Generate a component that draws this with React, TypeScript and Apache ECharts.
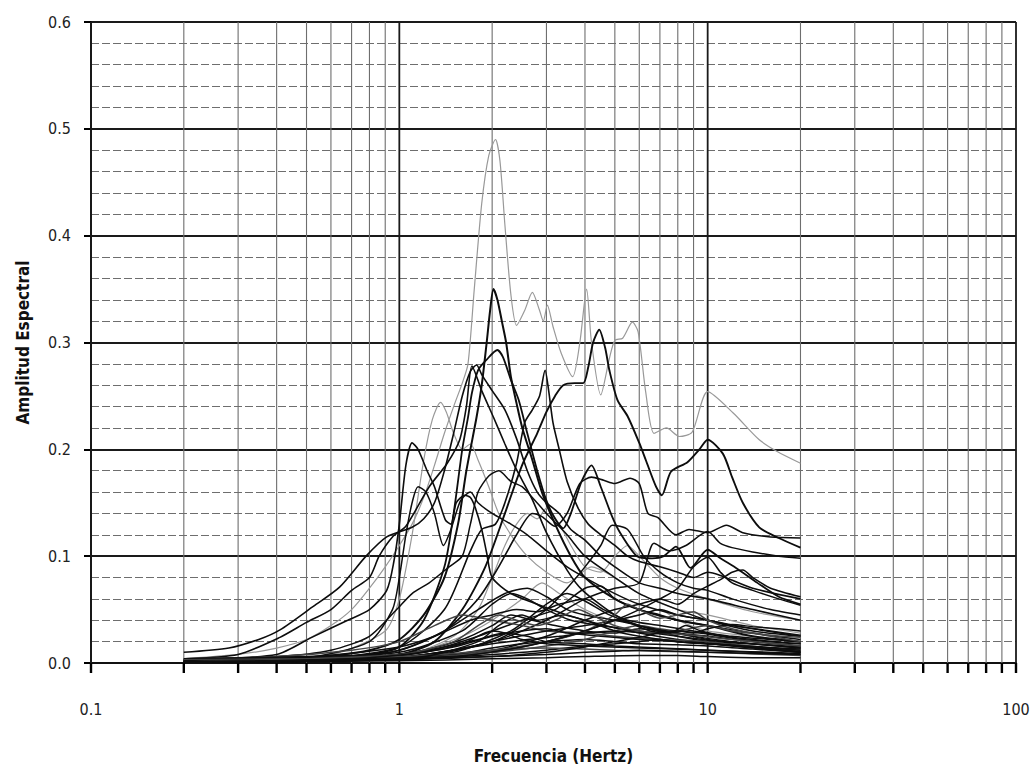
import React, { useEffect, useRef } from "react";
import * as echarts from "echarts";

// ---- Data: frequency (Hz) / spectral amplitude pairs ----
const xTickLabels = ["0.1", "1", "10", "100"];
const majorFreqs = [0.1, 1, 10, 100];
const minorFreqs = [0.2, 0.3, 0.4, 0.5, 0.6, 0.7, 0.8, 0.9, 2, 3, 4, 5, 6, 7, 8, 9, 20, 30, 40, 50, 60, 70, 80, 90];

const curveA = [[0.2,0.004],[0.3,0.008],[0.4,0.014],[0.5,0.022],[0.6,0.035],[0.7,0.05],[0.8,0.07],[0.9,0.09],[1.0,0.11],[1.1,0.13],[1.2,0.155],[1.3,0.185],[1.4,0.215],[1.5,0.24],[1.6,0.262],[1.67,0.28],[1.75,0.35],[1.85,0.43],[1.95,0.475],[2.05,0.49],[2.12,0.47],[2.2,0.41],[2.3,0.345],[2.4,0.316],[2.55,0.33],[2.7,0.347],[2.85,0.33],[2.93,0.32],[3.02,0.335],[3.15,0.315],[3.35,0.29],[3.65,0.268],[3.85,0.3],[4.05,0.35],[4.2,0.3],[4.5,0.251],[4.8,0.285],[5.0,0.302],[5.3,0.304],[5.7,0.319],[5.95,0.31],[6.3,0.253],[6.7,0.215],[7.35,0.22],[8.1,0.212],[8.9,0.216],[10.0,0.254],[12.1,0.234],[14.7,0.209],[16.8,0.198],[20,0.187]];
const curveB = [[0.2,0.002],[0.4,0.004],[0.6,0.007],[0.8,0.012],[1.0,0.022],[1.2,0.045],[1.4,0.08],[1.55,0.13],[1.65,0.18],[1.78,0.23],[1.85,0.26],[1.92,0.3],[1.97,0.33],[2.02,0.35],[2.08,0.34],[2.15,0.32],[2.22,0.3],[2.3,0.268],[2.4,0.243],[2.5,0.221],[2.7,0.19],[2.9,0.16],[3.2,0.13],[3.6,0.1],[4.0,0.08],[5.0,0.06],[6,0.05],[8,0.04],[10,0.035],[14,0.025],[20,0.02]];
const curveC = [[0.2,0.001],[0.5,0.003],[0.8,0.008],[1.0,0.015],[1.2,0.04],[1.4,0.09],[1.5,0.14],[1.6,0.2],[1.67,0.23],[1.72,0.253],[1.8,0.274],[1.92,0.284],[2.08,0.293],[2.17,0.286],[2.3,0.265],[2.44,0.246],[2.6,0.215],[2.8,0.18],[3.0,0.152],[3.2,0.135],[3.4,0.126],[3.6,0.14],[3.9,0.17],[4.2,0.185],[4.5,0.165],[4.9,0.137],[5.2,0.122],[5.9,0.1],[6.6,0.098],[7.2,0.1],[7.9,0.109],[8.8,0.089],[10,0.106],[11,0.098],[12.5,0.088],[14.5,0.075],[17,0.062],[20,0.055]];
const curveD = [[0.2,0.001],[0.5,0.002],[1.0,0.008],[1.3,0.02],[1.6,0.05],[1.9,0.09],[2.2,0.14],[2.5,0.185],[2.8,0.215],[3.0,0.235],[3.2,0.25],[3.4,0.26],[3.7,0.262],[3.95,0.262],[4.1,0.277],[4.25,0.3],[4.45,0.312],[4.65,0.295],[4.8,0.274],[5.1,0.246],[5.5,0.231],[6.0,0.206],[6.3,0.19],[6.8,0.165],[7.1,0.157],[7.6,0.179],[8.6,0.188],[9.4,0.2],[10,0.209],[11.2,0.196],[12,0.174],[13,0.15],[14.7,0.127],[17,0.117],[20,0.108]];
const curveE1 = [[0.2,0.004],[0.3,0.008],[0.41,0.024],[0.5,0.038],[0.6,0.05],[0.7,0.068],[0.8,0.08],[0.86,0.1],[0.95,0.118],[1.05,0.128],[1.25,0.165],[1.43,0.187],[1.57,0.209],[1.65,0.24],[1.72,0.278],[1.85,0.255],[2.02,0.23],[2.2,0.205],[2.37,0.184],[2.7,0.153],[3.0,0.122],[3.5,0.087],[3.93,0.068],[5,0.045],[6,0.035],[8,0.025],[10,0.02],[14,0.014],[20,0.01]];
const curveE2 = [[0.2,0.01],[0.28,0.014],[0.35,0.022],[0.41,0.031],[0.52,0.052],[0.64,0.071],[0.78,0.1],[0.91,0.118],[1.1,0.127],[1.2,0.135],[1.3,0.15],[1.4,0.18],[1.5,0.215],[1.6,0.25],[1.7,0.273],[1.78,0.279],[1.85,0.27],[2.0,0.255],[2.2,0.237],[2.4,0.21],[2.6,0.18],[2.8,0.16],[3.0,0.15],[3.3,0.14],[3.6,0.125],[4.0,0.115],[4.5,0.1],[5,0.09],[6,0.075],[7,0.07],[8,0.065],[10,0.06],[14,0.05],[20,0.04]];
const curveG = [[0.2,0.003],[0.4,0.008],[0.52,0.024],[0.68,0.04],[0.8,0.05],[0.91,0.068],[0.96,0.095],[1.0,0.13],[1.05,0.185],[1.1,0.206],[1.15,0.2],[1.23,0.18],[1.3,0.165],[1.41,0.134],[1.47,0.13],[1.53,0.15],[1.63,0.157],[1.7,0.155],[1.76,0.146],[1.85,0.125],[1.92,0.103],[2.0,0.08],[2.3,0.065],[2.8,0.055],[3.5,0.045],[4.5,0.036],[6,0.028],[8,0.022],[12,0.016],[20,0.011]];
const curveH = [[0.2,0.002],[0.5,0.005],[0.8,0.02],[0.95,0.05],[1.0,0.08],[1.05,0.12],[1.1,0.15],[1.15,0.165],[1.22,0.16],[1.3,0.14],[1.39,0.11],[1.47,0.125],[1.58,0.152],[1.7,0.16],[1.8,0.15],[2.0,0.14],[2.3,0.13],[2.6,0.12],[3,0.105],[3.5,0.09],[4,0.08],[5,0.065],[6,0.055],[8,0.045],[10,0.04],[14,0.032],[20,0.025]];
const curveH2 = [[0.2,0.002],[0.6,0.008],[0.9,0.03],[1.0,0.06],[1.1,0.12],[1.2,0.19],[1.28,0.228],[1.36,0.244],[1.42,0.235],[1.5,0.215],[1.6,0.2],[1.7,0.205],[1.8,0.19],[1.95,0.165],[2.1,0.14],[2.3,0.12],[2.6,0.1],[3,0.085],[3.5,0.075],[4.2,0.09],[5,0.08],[6,0.065],[8,0.05],[10,0.045],[14,0.035],[20,0.028]];
const curveK = [[0.2,0.001],[0.5,0.003],[1.0,0.015],[1.4,0.05],[1.7,0.105],[1.85,0.125],[2.05,0.13],[2.2,0.15],[2.4,0.187],[2.55,0.225],[2.7,0.237],[2.85,0.25],[2.97,0.274],[3.05,0.255],[3.15,0.225],[3.3,0.2],[3.5,0.17],[3.8,0.145],[4.1,0.13],[4.5,0.12],[5,0.11],[5.5,0.1],[6,0.095],[7,0.09],[8,0.085],[9,0.08],[10,0.085],[11,0.082],[14,0.07],[20,0.06]];
const curveM = [[0.2,0.001],[0.6,0.004],[1.0,0.012],[1.4,0.03],[1.8,0.06],[2.1,0.09],[2.4,0.12],[2.7,0.14],[2.9,0.137],[3.2,0.128],[3.5,0.14],[3.85,0.168],[4.2,0.174],[4.6,0.171],[5.0,0.168],[5.6,0.173],[6.0,0.168],[6.4,0.14],[6.9,0.136],[7.9,0.12],[8.7,0.125],[10,0.122],[11.5,0.129],[13,0.122],[16,0.118],[20,0.117]];
const curveN = [[0.2,0.003],[0.4,0.006],[0.6,0.012],[0.8,0.025],[0.98,0.05],[1.1,0.065],[1.25,0.075],[1.45,0.09],[1.6,0.1],[1.7,0.13],[1.8,0.16],[1.95,0.175],[2.1,0.18],[2.3,0.17],[2.5,0.165],[2.7,0.155],[3.0,0.14],[3.5,0.12],[4.0,0.1],[5,0.08],[6,0.065],[8,0.05],[10,0.04],[14,0.03],[20,0.025]];
const curveQ1 = [[0.2,0.001],[1,0.005],[2,0.02],[3,0.04],[4,0.06],[5,0.07],[6,0.075],[6.7,0.112],[7.5,0.105],[8.5,0.11],[10,0.123],[11,0.112],[12,0.108],[14,0.104],[17,0.1],[20,0.098]];
const curveQ2 = [[0.2,0.001],[1,0.004],[2,0.012],[3,0.025],[4,0.04],[5,0.05],[6,0.055],[7,0.06],[8,0.055],[9,0.065],[10,0.072],[11,0.078],[12,0.085],[13,0.087],[14,0.08],[16,0.07],[20,0.062]];
const curveQ3 = [[0.2,0.001],[1,0.003],[2,0.01],[3,0.02],[4,0.03],[5,0.04],[6,0.05],[7,0.06],[8,0.07],[9,0.09],[10,0.099],[11,0.085],[12,0.075],[14,0.068],[17,0.06],[20,0.054]];
const curveT = [[0.2,0.001],[1,0.006],[1.5,0.025],[1.8,0.05],[2.0,0.08],[2.2,0.11],[2.4,0.13],[2.6,0.14],[2.8,0.135],[3.0,0.145],[3.3,0.13],[3.6,0.11],[4,0.09],[4.5,0.085],[5,0.1],[5.5,0.11],[6,0.1],[7,0.08],[8,0.07],[10,0.06],[14,0.048],[20,0.04]];
const curveR = [[0.2,0.001],[1,0.004],[2,0.02],[3,0.05],[3.5,0.07],[4,0.09],[4.5,0.11],[4.9,0.129],[5.5,0.125],[6.2,0.1],[7,0.085],[8,0.075],[9,0.07],[10,0.068],[12,0.06],[16,0.05],[20,0.045]];

const low1 = [[0.2,0.001],[0.6,0.004],[1,0.012],[1.4,0.03],[1.8,0.05],[2.2,0.065],[2.6,0.07],[3,0.062],[3.5,0.05],[4,0.045],[5,0.04],[6,0.035],[8,0.028],[10,0.025],[14,0.02],[20,0.016]];
const low2 = [[0.2,0.002],[0.5,0.005],[1,0.015],[1.3,0.025],[1.7,0.04],[2,0.045],[2.4,0.05],[2.8,0.048],[3.3,0.055],[4,0.06],[4.6,0.05],[5.5,0.04],[7,0.035],[9,0.03],[12,0.025],[20,0.02]];
const low3 = [[0.2,0.001],[0.7,0.003],[1.2,0.01],[1.8,0.025],[2.5,0.04],[3.2,0.05],[4,0.07],[4.5,0.072],[5,0.06],[6,0.05],[7,0.045],[8,0.04],[10,0.035],[14,0.028],[20,0.022]];
const low4 = [[0.2,0.004],[0.4,0.006],[0.7,0.012],[1,0.02],[1.3,0.035],[1.6,0.045],[2,0.04],[2.5,0.035],[3,0.03],[4,0.028],[5,0.025],[7,0.022],[10,0.02],[15,0.015],[20,0.012]];
const low5 = [[0.2,0.001],[1,0.006],[1.5,0.012],[2,0.02],[3,0.03],[4,0.035],[5,0.04],[6,0.045],[7,0.05],[8,0.045],[10,0.04],[12,0.035],[16,0.03],[20,0.026]];
const low6 = [[0.2,0.002],[0.8,0.005],[1.2,0.012],[1.6,0.022],[2,0.035],[2.3,0.045],[2.7,0.04],[3.2,0.035],[4,0.03],[5,0.028],[6,0.032],[7,0.03],[9,0.025],[12,0.02],[20,0.014]];
const low7 = [[0.2,0.003],[0.5,0.005],[1,0.008],[1.5,0.015],[2,0.025],[2.5,0.03],[3,0.032],[3.5,0.028],[4.5,0.025],[6,0.022],[8,0.02],[10,0.018],[14,0.015],[20,0.01]];
const low8 = [[0.2,0.001],[1,0.004],[2,0.012],[3,0.02],[4,0.03],[5,0.045],[5.5,0.055],[6,0.05],[7,0.042],[8,0.045],[9,0.048],[10,0.04],[12,0.032],[16,0.025],[20,0.02]];
const low9 = [[0.2,0.002],[0.6,0.004],[1,0.008],[1.4,0.015],[1.8,0.022],[2.2,0.028],[2.6,0.025],[3,0.02],[4,0.018],[5,0.016],[7,0.014],[10,0.012],[20,0.008]];
const low10 = [[0.2,0.001],[0.9,0.003],[1.5,0.008],[2,0.014],[2.5,0.018],[3,0.02],[4,0.022],[5,0.02],[6,0.018],[8,0.017],[10,0.016],[14,0.013],[20,0.01]];
const low11 = [[0.2,0.004],[0.5,0.006],[1,0.01],[1.6,0.03],[2,0.055],[2.3,0.065],[2.6,0.06],[3,0.05],[3.6,0.04],[4.5,0.035],[6,0.03],[8,0.025],[11,0.02],[15,0.017],[20,0.014]];
const low12 = [[0.2,0.001],[1,0.004],[2,0.01],[3,0.016],[4,0.022],[5,0.03],[6,0.035],[7,0.032],[8,0.03],[9,0.033],[10,0.035],[12,0.03],[16,0.026],[20,0.024]];
const low13 = [[0.2,0.001],[0.8,0.003],[1.5,0.01],[2.3,0.03],[3,0.055],[3.5,0.065],[4,0.058],[4.8,0.045],[6,0.035],[8,0.028],[10,0.022],[14,0.018],[20,0.015]];
const low14 = [[0.2,0.002],[1,0.005],[1.5,0.012],[2,0.018],[2.6,0.022],[3.3,0.025],[4,0.028],[5,0.03],[6.5,0.028],[8,0.03],[10,0.027],[13,0.022],[20,0.018]];
const low15 = [[0.2,0.001],[1,0.003],[2,0.008],[3,0.012],[4,0.016],[5,0.018],[6,0.02],[7,0.022],[8,0.02],[10,0.018],[13,0.016],[20,0.013]];
const low16 = [[0.2,0.003],[0.5,0.004],[1,0.006],[1.5,0.009],[2,0.012],[3,0.014],[4,0.013],[5,0.012],[7,0.011],[10,0.01],[20,0.007]];
const low17 = [[0.2,0.001],[0.6,0.002],[1.2,0.006],[1.8,0.02],[2.1,0.035],[2.5,0.045],[2.8,0.04],[3.4,0.045],[4,0.04],[5,0.03],[6,0.025],[8,0.02],[10,0.018],[20,0.012]];
const low18 = [[0.2,0.002],[1,0.004],[2,0.006],[3,0.008],[4,0.01],[5,0.011],[6,0.012],[8,0.011],[10,0.01],[14,0.009],[20,0.008]];
const low19 = [[0.2,0.001],[1,0.002],[2,0.004],[3,0.005],[4,0.006],[6,0.007],[8,0.007],[10,0.006],[14,0.005],[20,0.005]];
const low20 = [[0.2,0.001],[1,0.008],[1.5,0.02],[1.8,0.035],[2.1,0.045],[2.4,0.04],[2.8,0.035],[3.2,0.04],[3.8,0.05],[4.2,0.045],[5,0.035],[6,0.03],[7,0.028],[9,0.026],[12,0.022],[20,0.016]];
const low21 = [[0.2,0.001],[1,0.006],[1.6,0.025],[2,0.04],[2.5,0.06],[2.9,0.075],[3.3,0.065],[4,0.05],[5,0.04],[6,0.045],[7,0.05],[8,0.04],[10,0.03],[14,0.025],[20,0.02]];
const low22 = [[0.2,0.001],[1,0.003],[2,0.006],[3,0.01],[4,0.015],[5,0.02],[6,0.024],[7,0.028],[8,0.03],[9,0.028],[10,0.032],[12,0.036],[14,0.034],[17,0.032],[20,0.03]];
const low23 = [[0.2,0.001],[1.5,0.006],[2.5,0.015],[3.5,0.025],[4.5,0.035],[5,0.04],[5.5,0.038],[6.5,0.03],[7.5,0.028],[8.5,0.035],[9.5,0.03],[12,0.024],[20,0.018]];
const low24 = [[0.2,0.001],[0.7,0.004],[1.2,0.01],[1.6,0.018],[2,0.03],[2.2,0.028],[2.5,0.022],[3,0.018],[4,0.016],[6,0.014],[10,0.012],[20,0.009]];

const FONT = "'Liberation Sans Narrow','Arial Narrow','DejaVu Sans Condensed',Arial,sans-serif";

type Spec = { data: number[][]; color: string; width: number };
const BLACK = "#0d0d0d";
const GRAY = "#999999";
const curves: Spec[] = [
  { data: curveA, color: GRAY, width: 1.2 },
  { data: curveH2, color: GRAY, width: 1.2 },
  { data: curveT, color: GRAY, width: 1.2 },
  { data: low21, color: GRAY, width: 1.2 },
  { data: curveB, color: BLACK, width: 2 },
  { data: curveC, color: BLACK, width: 1.8 },
  { data: curveD, color: BLACK, width: 1.9 },
  { data: curveE1, color: BLACK, width: 1.6 },
  { data: curveE2, color: BLACK, width: 1.6 },
  { data: curveG, color: BLACK, width: 1.6 },
  { data: curveH, color: BLACK, width: 1.5 },
  { data: curveK, color: BLACK, width: 1.6 },
  { data: curveM, color: BLACK, width: 1.6 },
  { data: curveN, color: BLACK, width: 1.5 },
  { data: curveQ1, color: BLACK, width: 1.5 },
  { data: curveQ2, color: BLACK, width: 1.5 },
  { data: curveQ3, color: BLACK, width: 1.5 },
  { data: curveR, color: BLACK, width: 1.5 },
  ...[low1, low2, low3, low4, low5, low6, low7, low8, low9, low10, low11, low12, low13, low14, low15, low16, low17, low18, low19, low20, low22, low23, low24].map(
    (d, i) => ({ data: d, color: i % 4 === 3 ? "#444" : BLACK, width: 1.5 })
  ),
];

export default function App() {
  const ref = useRef<HTMLDivElement>(null);
  useEffect(() => {
    if (!ref.current) return;
    const chart = echarts.init(ref.current, undefined, { renderer: "svg" });
    const lineSeries = curves.map((c) => ({
      type: "line",
      data: c.data,
      showSymbol: false,
      symbol: "none",
      smooth: 0.25,
      z: 3,
      lineStyle: { color: c.color, width: c.width },
      silent: true,
    }));
    const tickFreqs = [...majorFreqs, ...minorFreqs].sort((a, b) => a - b);
    chart.setOption({
      animation: false,
      grid: { left: 91, right: 17, top: 22, bottom: 116 },
      xAxis: {
        type: "log",
        logBase: 10,
        min: 0.1,
        max: 100,
        name: "Frecuencia (Hertz)",
        nameLocation: "middle",
        nameGap: 84,
        nameTextStyle: { fontFamily: FONT, fontSize: 17, fontWeight: "bold", color: "#111" },
        axisLine: { show: true, lineStyle: { color: "#111", width: 2 } },
        axisTick: { show: false },
        axisLabel: {
          margin: 38,
          fontFamily: FONT,
          fontSize: 16,
          color: "#222",
          formatter: (v: number) => {
            const idx = Math.round(Math.log10(v)) + 1;
            return xTickLabels[idx] ?? String(v);
          },
        },
        splitLine: { show: false },
      },
      yAxis: {
        type: "value",
        min: 0,
        max: 0.6,
        interval: 0.1,
        name: "Amplitud Espectral",
        nameLocation: "middle",
        nameGap: 60,
        nameRotate: 90,
        nameTextStyle: { fontFamily: FONT, fontSize: 17, fontWeight: "bold", color: "#111" },
        axisLine: { show: true, lineStyle: { color: "#111", width: 2 } },
        axisTick: { show: true, length: 7, inside: false, lineStyle: { color: "#000", width: 2 } },
        axisLabel: {
          margin: 20,
          fontFamily: FONT,
          fontSize: 16,
          color: "#222",
          formatter: (v: number) => v.toFixed(1),
        },
        splitLine: { show: true, lineStyle: { color: "#1a1a1a", width: 1.8 } },
        minorTick: { show: false, splitNumber: 5 },
        minorSplitLine: { show: true, lineStyle: { color: "#6e6e6e", width: 1.1, type: [8, 3] } },
      },
      series: [
        {
          type: "custom",
          z: 1,
          silent: true,
          data: tickFreqs.map((f) => [f]),
          encode: { x: 0 },
          renderItem: (params: any, api: any) => {
            const f = api.value(0);
            const bot = api.coord([f, 0]);
            const top = api.coord([f, 0.6]);
            const isMajor = majorFreqs.indexOf(f) >= 0;
            return {
              type: "line",
              shape: { x1: bot[0], y1: bot[1], x2: top[0], y2: top[1] },
              style: { stroke: isMajor ? "#1a1a1a" : "#6e6e6e", lineWidth: isMajor ? 1.8 : 1.1 },
            };
          },
        },
        ...lineSeries,
      ],
    });
    // tick marks below the x axis, positioned through the axis scale
    const y0 = chart.convertToPixel({ yAxisIndex: 0 }, 0) as number;
    const tickGraphics = tickFreqs.map((f) => {
      const x = chart.convertToPixel({ xAxisIndex: 0 }, f) as number;
      return {
        type: "line",
        z: 100,
        shape: { x1: x, y1: y0, x2: x, y2: y0 + 10 },
        style: { stroke: "#000", lineWidth: 2.4 },
      };
    });
    chart.setOption({ graphic: tickGraphics });
    return () => chart.dispose();
  }, []);
  return (
    <div
      ref={ref}
      style={{ position: "fixed", left: 0, top: 0, width: 1033, height: 779, background: "#fff" }}
    />
  );
}
